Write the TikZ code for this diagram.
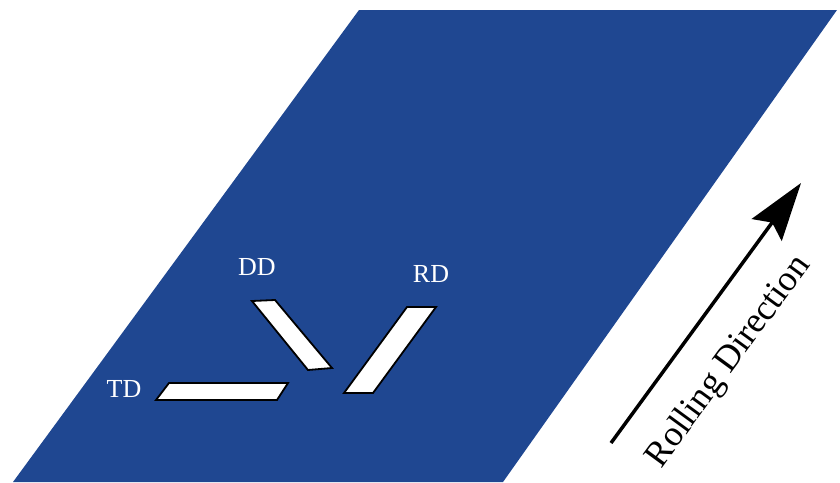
\documentclass[tikz,border=0pt]{standalone}
\usepackage{fontspec}
\setmainfont{Liberation Serif}
\usetikzlibrary{arrows.meta}
\definecolor{sheetblue}{HTML}{1F4791}
\tikzset{
  sheet/.style={fill=sheetblue, draw=none},
  specimen/.style={fill=white, draw=black, line width=1.8pt, line join=miter},
  dirlabel/.style={text=white, inner sep=0pt, font=\fontsize{26}{26}\selectfont},
  rollarrow/.style={line width=3.5pt, -{Stealth[length=58pt, width=37pt, inset=9pt]}},
  rolllabel/.style={inner sep=0pt, font=\fontsize{36}{36}\selectfont}
}
\begin{document}
\begin{tikzpicture}[x=1pt, y=-1pt]
  \useasboundingbox (0,0) rectangle (840,482);

  % rolled sheet
  \fill[sheet] (359,10) -- (837,10) -- (503,482) -- (13,482) -- cycle;

  % tensile specimens cut along three directions
  \draw[specimen] (156,400) -- (277,400) -- (288,383) -- (169,383) -- cycle;
  \draw[specimen] (252,301) -- (275,300) -- (332,368) -- (308,370) -- cycle;
  \draw[specimen] (344,393) -- (373,393) -- (436,307) -- (407,307) -- cycle;

  % direction labels
  \node[dirlabel] (td) at (124,389) {TD};
  \node[dirlabel] (dd) at (257,267) {DD};
  \node[dirlabel] (rd) at (431,274) {RD};

  % rolling direction arrow
  \coordinate (rolltail) at (611,443);
  \coordinate (rollhead) at (801,183);
  \draw[rollarrow] (rolltail) -- (rollhead);
  \node[rolllabel, rotate=53.8] (rolltext) at (729,362) {Rolling Direction};
\end{tikzpicture}
\end{document}
